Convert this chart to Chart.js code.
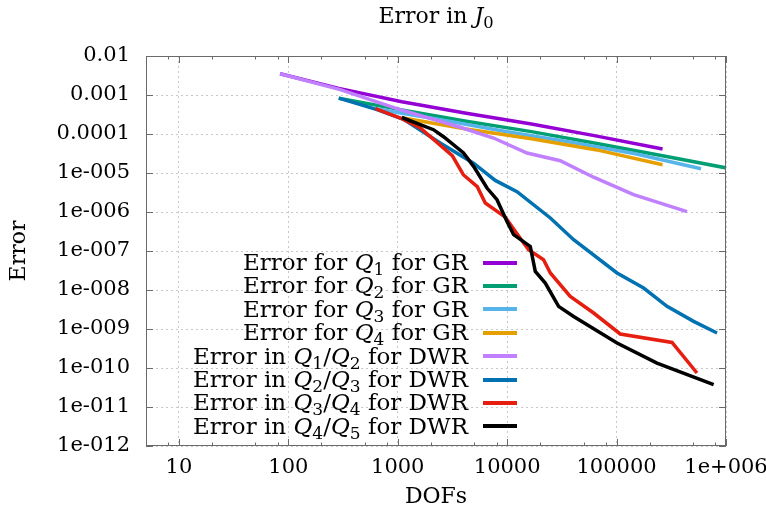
<!DOCTYPE html>
<html>
<head>
<meta charset="utf-8">
<script src="https://cdn.jsdelivr.net/npm/chart.js@4.4.0/dist/chart.umd.min.js"></script>
<style>
html,body{margin:0;padding:0;background:#fff;}
#wrap{position:relative;width:766px;height:512px;overflow:hidden;}
#chart{position:absolute;left:0;top:0;}
#title{position:absolute;left:146px;width:580px;top:3px;text-align:center;font:22px "DejaVu Serif";color:#000;white-space:nowrap;}
#legend{position:absolute;left:0;top:251px;width:517px;font:23px "DejaVu Serif";color:#000;}
.row{display:flex;justify-content:flex-end;align-items:center;height:23.4px;}
.txt{white-space:nowrap;line-height:23.4px;margin-right:15px;}
.sw{display:inline-block;width:34px;height:4px;}
i{font-style:italic;}
sub{font-size:0.74em;vertical-align:-0.28em;line-height:0;}
</style>
</head>
<body>
<div id="wrap">
  <canvas id="chart" width="766" height="512"></canvas>
  <div id="title">Error in <i>J</i><sub>0</sub></div>
  <div id="legend"></div>
</div>
<script>
// ---- tick values / labels ----
const xTickValues = [10, 100, 1000, 10000, 100000, 1000000];
const xTickLabels = ["10", "100", "1000", "10000", "100000", "1e+006"];
const xMinorTicks = [8, 20, 50, 80, 200, 500, 800, 2000, 5000, 8000, 20000, 50000, 80000, 200000, 500000, 800000];
const yTickValues = [1e-2, 1e-3, 1e-4, 1e-5, 1e-6, 1e-7, 1e-8, 1e-9, 1e-10, 1e-11, 1e-12];
const yTickLabels = ["0.01", "0.001", "0.0001", "1e-005", "1e-006", "1e-007", "1e-008", "1e-009", "1e-010", "1e-011", "1e-012"];

// ---- series ----
const seriesLabels = [
  "Error for Q_1 for GR",
  "Error for Q_2 for GR",
  "Error for Q_3 for GR",
  "Error for Q_4 for GR",
  "Error in Q_1/Q_2 for DWR",
  "Error in Q_2/Q_3 for DWR",
  "Error in Q_3/Q_4 for DWR",
  "Error in Q_4/Q_5 for DWR"
];
const seriesColors = ["#9400d3", "#009e73", "#56b4e9", "#e69f00", "#c080ff", "#0072b2", "#e51e10", "#000000"];

const q1grDofs = [84, 289, 1089, 4225, 16641, 66049, 263169];
const q1grErr  = [3.52e-3, 1.48e-3, 6.73e-4, 3.40e-4, 1.80e-4, 8.83e-5, 4.12e-5];

const q2grDofs = [289, 1089, 4225, 16641, 66049, 263169, 1050625];
const q2grErr  = [8.3e-4, 4.15e-4, 2.13e-4, 1.15e-4, 5.70e-5, 2.76e-5, 1.32e-5];

const q3grDofs = [625, 2401, 9409, 37249, 148225, 591361];
const q3grErr  = [4.46e-4, 2.36e-4, 1.18e-4, 6.27e-5, 3.10e-5, 1.29e-5];

const q4grDofs = [1089, 4225, 16641, 66049, 263169];
const q4grErr  = [2.62e-4, 1.34e-4, 7.57e-5, 3.91e-5, 1.63e-5];

const q12dwrDofs = [84, 298, 984, 3724, 7510, 15180, 30550, 61600, 143000, 440000];
const q12dwrErr  = [3.52e-3, 1.37e-3, 4.46e-4, 1.49e-4, 7.89e-5, 3.26e-5, 2.07e-5, 7.80e-6, 2.78e-6, 1.02e-6];

const q23dwrDofs = [289, 646, 1130, 2443, 4930, 7780, 12300, 24800, 40500, 100900, 176600, 289000, 506000, 828000];
const q23dwrErr  = [8.3e-4, 4.20e-4, 2.39e-4, 5.88e-5, 1.78e-5, 6.46e-6, 3.32e-6, 7.02e-7, 1.95e-7, 2.73e-8, 1.12e-8, 3.80e-9, 1.57e-9, 7.89e-10];

const q34dwrDofs = [625, 1055, 1607, 3150, 3970, 5330, 6310, 9610, 13460, 15700, 21500, 24800, 37700, 61700, 108000, 321000, 543000];
const q34dwrErr  = [4.46e-4, 2.57e-4, 1.43e-4, 2.78e-5, 9.04e-6, 4.45e-6, 1.70e-6, 7.36e-7, 1.95e-7, 1.08e-7, 5.98e-8, 2.73e-8, 6.86e-9, 2.57e-9, 7.45e-10, 4.53e-10, 7.45e-11];

const q45dwrDofs = [1089, 2120, 2620, 3990, 4930, 6540, 8070, 9960, 11450, 16260, 18070, 22300, 29500, 40500, 100900, 234000, 771000];
const q45dwrErr  = [2.65e-4, 1.29e-4, 8.53e-5, 3.26e-5, 1.48e-5, 4.12e-6, 2.07e-6, 5.74e-7, 2.62e-7, 1.31e-7, 3.00e-8, 1.51e-8, 3.80e-9, 2.10e-9, 4.38e-10, 1.34e-10, 3.73e-11];

const seriesDofs = [q1grDofs, q2grDofs, q3grDofs, q4grDofs, q12dwrDofs, q23dwrDofs, q34dwrDofs, q45dwrDofs];
const seriesErr  = [q1grErr, q2grErr, q3grErr, q4grErr, q12dwrErr, q23dwrErr, q34dwrErr, q45dwrErr];

const FONT = '"DejaVu Serif"';

const datasets = seriesLabels.map((lab, k) => ({
  label: lab,
  data: seriesDofs[k].map((d, i) => ({x: d, y: seriesErr[k][i]})),
  borderColor: seriesColors[k],
  backgroundColor: seriesColors[k],
  borderWidth: 3.5,
  pointRadius: 0,
  pointHoverRadius: 0,
  tension: 0,
  fill: false,
  clip: 0,
  order: -k,
  borderJoinStyle: 'miter',
  borderCapStyle: 'butt'
}));

const frameTicks = {
  id: 'frameTicks',
  afterDatasetsDraw(chart) {
    const {ctx, chartArea: a, scales: {x, y}} = chart;
    ctx.save();
    ctx.strokeStyle = '#6a6a6a';
    ctx.lineWidth = 1;
    ctx.beginPath();
    const vx = (v, len) => {
      const px = Math.round(x.getPixelForValue(v)) + 0.5;
      ctx.moveTo(px, a.bottom); ctx.lineTo(px, a.bottom - len);
      ctx.moveTo(px, a.top); ctx.lineTo(px, a.top + len);
    };
    xTickValues.forEach(v => vx(v, 7));
    xMinorTicks.forEach(v => vx(v, 3.5));
    yTickValues.forEach(v => {
      const py = Math.round(y.getPixelForValue(v)) + 0.5;
      ctx.moveTo(a.left, py); ctx.lineTo(a.left + 7, py);
      ctx.moveTo(a.right, py); ctx.lineTo(a.right - 7, py);
    });
    ctx.stroke();
    ctx.strokeRect(Math.round(a.left) + 0.5, Math.round(a.top) + 0.5, Math.round(a.width) - 1, Math.round(a.height) - 1);
    ctx.restore();
  }
};

const chart = new Chart(document.getElementById('chart'), {
  type: 'line',
  data: {datasets},
  plugins: [frameTicks],
  options: {
    responsive: false,
    animation: false,
    events: [],
    layout: {padding: {top: 56, right: 40, left: 0, bottom: 0}},
    plugins: {legend: {display: false}, tooltip: {enabled: false}, title: {display: false}},
    scales: {
      x: {
        type: 'logarithmic',
        min: 5, max: 1e6,
        afterBuildTicks: s => { s.ticks = xTickValues.map(v => ({value: v, major: true})); },
        afterFit: s => { s.height = 66; s.paddingLeft = 0; s.paddingRight = 0; },
        ticks: {
          autoSkip: false, maxRotation: 0, minRotation: 0, padding: 9,
          color: '#000', font: {family: FONT, size: 21},
          callback: (v, i) => xTickLabels[i]
        },
        grid: {color: '#c8c8c8', lineWidth: 1, drawTicks: false},
        border: {display: false, dash: [2, 3]},
        title: {display: true, text: 'DOFs', color: '#000', font: {family: FONT, size: 22}, padding: {top: 0, bottom: 2}}
      },
      y: {
        type: 'logarithmic',
        min: 1e-12, max: 1e-2,
        afterBuildTicks: s => { s.ticks = yTickValues.map(v => ({value: v, major: true})); },
        afterFit: s => { s.width = 146; s.paddingTop = 0; s.paddingBottom = 0; },
        ticks: {
          autoSkip: false, padding: 16,
          color: '#000', font: {family: FONT, size: 21},
          callback: (v, i) => yTickLabels[i]
        },
        grid: {color: '#c8c8c8', lineWidth: 1, drawTicks: false},
        border: {display: false, dash: [2, 3]},
        title: {display: true, text: 'Error', color: '#000', font: {family: FONT, size: 22}, padding: {top: 6, bottom: 0}}
      }
    }
  }
});

// HTML legend built from the chart's datasets
const legendEl = document.getElementById('legend');
chart.data.datasets.forEach(ds => {
  const row = document.createElement('div');
  row.className = 'row';
  const t = document.createElement('span');
  t.className = 'txt';
  t.innerHTML = ds.label.replace(/Q_(\d)/g, '<i>Q</i><sub>$1</sub>');
  const sw = document.createElement('span');
  sw.className = 'sw';
  sw.style.background = ds.borderColor;
  row.appendChild(t);
  row.appendChild(sw);
  legendEl.appendChild(row);
});
</script>
</body>
</html>
